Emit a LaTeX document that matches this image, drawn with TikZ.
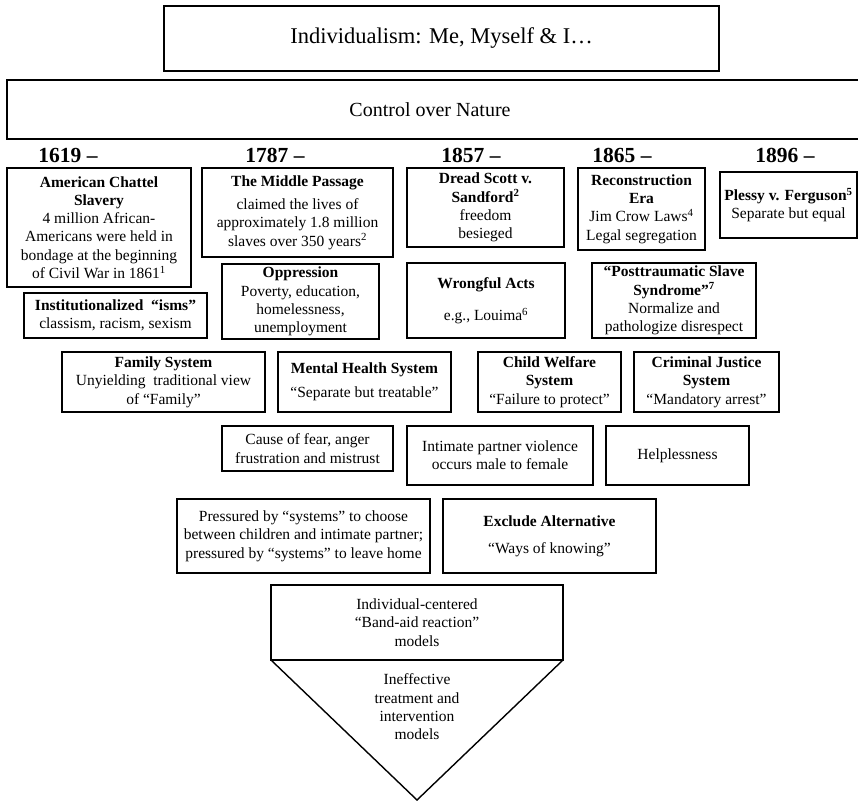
\documentclass[tikz,border=0pt]{standalone}
\usepackage{fontspec}
\setmainfont{Liberation Serif}
\newcommand\mybox[6]{\node[box, minimum width={(#4-#2)*1pt}, minimum height={(#5-#3)*1pt}] (#1) at ({(#2+#4)/2},{(#3+#5)/2}) {#6};}
\tikzset{
  box/.style={draw, line width=1.4pt, outer sep=0pt, inner sep=1pt, align=center, font=\fontsize{15.5}{18.3}\selectfont},
  yr/.style={font=\fontsize{21.5}{24}\selectfont\bfseries, inner sep=0pt},
  plain/.style={align=center, inner sep=0pt, font=\fontsize{15.5}{18.3}\selectfont},
  edge/.style={line width=1.4pt, line join=miter}
}
\begin{document}
\begin{tikzpicture}[x=1pt, y=-1pt]
\useasboundingbox (0,0) rectangle (858,801);
% top
\node[box, minimum width=555pt, minimum height=65pt, font=\fontsize{22.5}{26}\selectfont] (indiv) at (441.5,38.5) {Individualism: Me, Myself \& I…};
\node[box, minimum width=855pt, minimum height=59pt, text width=0pt] (control) at (434.5,109.5) {};
\node[font=\fontsize{20}{24}\selectfont, inner sep=0pt] (controltxt) at (430,110) {Control over Nature};
% years
\node[yr] (y1) at (68,155) {1619 –};
\node[yr] (y2) at (275,155) {1787 –};
\node[yr] (y3) at (471,155) {1857 –};
\node[yr] (y4) at (622,155) {1865 –};
\node[yr] (y5) at (785,155) {1896 –};
% row 1
\mybox{chattel}{7}{168}{191}{287}{\textbf{American Chattel}\\\textbf{Slavery}\\4 million African-\\Americans were held in\\bondage at the beginning\\of Civil War in 1861\textsuperscript{1}}
\mybox{middle}{202}{168}{393}{257}{\textbf{The Middle Passage}\\[5pt]claimed the lives of\\approximately 1.8 million\\slaves over 350 years\textsuperscript{2}}
\mybox{dred}{407}{168}{564}{247}{\textbf{Dread Scott v.}\\\textbf{Sandford\textsuperscript{2}}\\freedom\\besieged}
\mybox{recon}{578}{168}{705}{250}{\textbf{Reconstruction}\\\textbf{Era}\\Jim Crow Laws\textsuperscript{4}\\Legal segregation}
\mybox{plessy}{720}{172}{857}{238}{\textbf{Plessy v. Ferguson\textsuperscript{5}}\\Separate but equal}
% row 2
\mybox{isms}{24}{293}{207}{338}{\textbf{Institutionalized\ \ “isms”}\\classism, racism, sexism}
\mybox{oppr}{222}{264}{379}{339}{\textbf{Oppression}\\Poverty, education,\\homelessness,\\unemployment}
\mybox{wrong}{407}{263}{565}{338}{\textbf{Wrongful Acts}\\[14pt]e.g., Louima\textsuperscript{6}}
\mybox{ptss}{592}{263}{756}{338}{\textbf{“Posttraumatic Slave}\\\textbf{Syndrome”\textsuperscript{7}}\\Normalize and\\pathologize disrespect}
% row 3
\mybox{family}{62}{352}{265}{412}{\textbf{Family System}\\Unyielding\ \ traditional view\\of “Family”}
\mybox{mental}{278}{352}{451}{412}{\textbf{Mental Health System}\\[6pt]“Separate but treatable”}
\mybox{child}{478}{352}{621}{412}{\textbf{Child Welfare}\\\textbf{System}\\“Failure to protect”}
\mybox{crim}{634}{352}{779}{412}{\textbf{Criminal Justice}\\\textbf{System}\\“Mandatory arrest”}
% row 4
\mybox{fear}{222}{426}{393}{471}{Cause of fear, anger\\frustration and mistrust}
\mybox{ipv}{407}{426}{593}{485}{Intimate partner violence\\occurs male to female}
\mybox{help}{606}{426}{749}{485}{Helplessness}
% row 5
\mybox{press}{177}{499}{430}{573}{Pressured by “systems” to choose\\between children and intimate partner;\\pressured by “systems” to leave home}
\mybox{excl}{443}{499}{656}{573}{\textbf{Exclude Alternative}\\[9pt]“Ways of knowing”}
% funnel
\mybox{band}{271}{585}{563}{660}{Individual-centered\\“Band-aid reaction”\\models}
\coordinate (apex) at (417,800);
\draw[edge] (band.south west) -- (apex) -- (band.south east);
\node[plain] (ineff) at (417,707) {Ineffective\\treatment and\\intervention\\models};
\end{tikzpicture}
\end{document}
